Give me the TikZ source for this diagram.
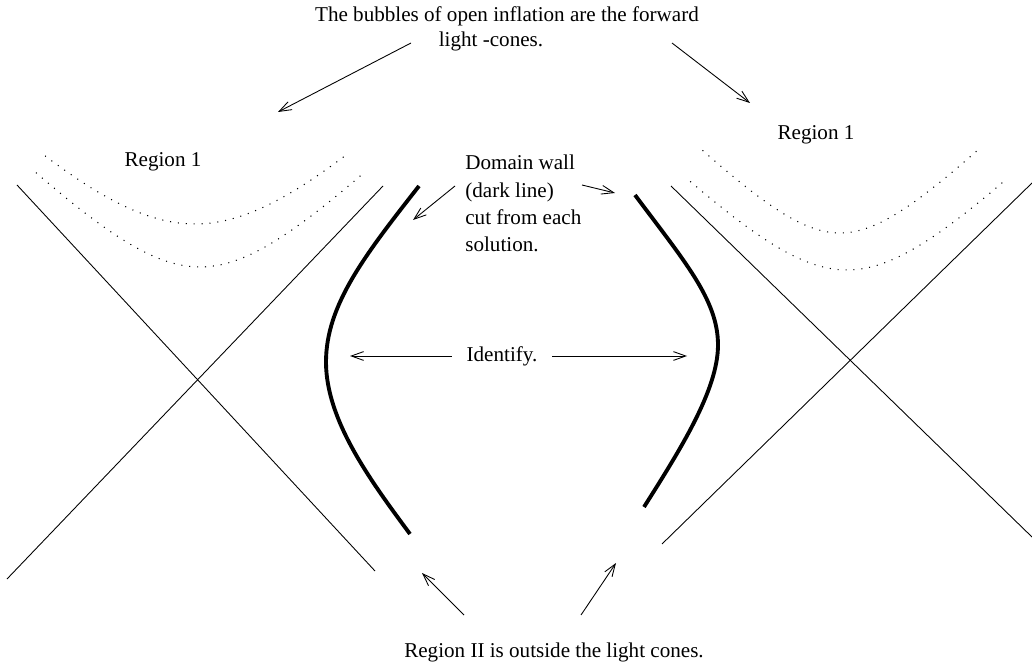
\documentclass[tikz,border=0pt,12pt]{standalone}
\usepackage{fontspec}
\setmainfont{Liberation Serif}
\usetikzlibrary{arrows.meta}

\begin{document}
\begin{tikzpicture}[x=0.5688pt,y=-0.5688pt,
        >={Straight Barb[length=7pt,width=5pt]},
        txt/.style={inner sep=0pt,font=\fontsize{12}{15.4}\selectfont},
        cone/.style={line width=0.5pt},
        wall/.style={line width=2.2pt},
        surface/.style={line width=0.6pt,dash pattern=on 0.6pt off 3.9pt},
        pointer/.style={->,line width=0.5pt}]
        \useasboundingbox (0,0) rectangle (1032,667);

        \draw[cone] (17,185) -- (375,571);
        \draw[cone] (383,186) -- (7,579);
        \draw[cone] (671,186) -- (1032,537);
        \draw[cone] (662,544) -- (1032,183);

        \draw[surface] plot[domain=-0.98:0.98,samples=40] ({195+131*sinh(\x)},{224-131*(cosh(\x)-1)});
        \draw[surface] plot[domain=-1.31:1.31,samples=40] ({200+95.5*sinh(\x)},{267-95.5*(cosh(\x)-1)});
        \draw[surface] plot[domain=-1.39:1.39,samples=40] ({840+73*sinh(\x)},{233-73*(cosh(\x)-1)});
        \draw[surface] plot[domain=-1.28:1.28,samples=40] ({847+94.5*sinh(\x)},{270-94.5*(cosh(\x)-1)});

        \draw[wall] (419,186) .. controls (365,255) and (326,305) .. (326,362)
                .. controls (326,420) and (370,480) .. (410,534);
        \draw[wall] (635,195) .. controls (685,262) and (718,300) .. (718,345)
                .. controls (718,390) and (680,450) .. (644,507);

        \node[txt] (bubbles) at (507,16) {The bubbles of open inflation are the forward};
        \node[txt] (cones) at (491,41) {light -cones.};
        \node[txt] (regionLeft) at (163,162) {Region 1};
        \node[txt] (regionRight) at (816,135) {Region 1};
        \node[txt,anchor=north west,align=left] (domain) at (465,155) {Domain wall\\(dark line)\\cut from each\\solution.};
        \node[txt,inner xsep=8.3pt] (identify) at (502,356) {Identify.};
        \node[txt] (outside) at (554,652) {Region II is outside the light cones.};

        \coordinate (bubLeftFrom) at (411,43);
        \coordinate (bubLeftTo) at (278,112);
        \coordinate (bubRightFrom) at (672,43);
        \coordinate (bubRightTo) at (750,103);
        \coordinate (wallLeftFrom) at (455,186);
        \coordinate (wallLeftTo) at (413,220);
        \coordinate (wallRightFrom) at (582,185);
        \coordinate (wallRightTo) at (615,193);
        \coordinate (idLeftTo) at (350,356);
        \coordinate (idRightTo) at (687,356);
        \coordinate (outLeftFrom) at (464,615);
        \coordinate (outLeftTo) at (422,573);
        \coordinate (outRightFrom) at (581,615);
        \coordinate (outRightTo) at (616,563);

        \draw[pointer] (bubLeftFrom) -- (bubLeftTo);
        \draw[pointer] (bubRightFrom) -- (bubRightTo);
        \draw[pointer] (wallLeftFrom) -- (wallLeftTo);
        \draw[pointer] (wallRightFrom) -- (wallRightTo);
        \draw[pointer] (identify.west) -- (idLeftTo);
        \draw[pointer] (identify.east) -- (idRightTo);
        \draw[pointer] (outLeftFrom) -- (outLeftTo);
        \draw[pointer] (outRightFrom) -- (outRightTo);
    \end{tikzpicture}
\end{document}
